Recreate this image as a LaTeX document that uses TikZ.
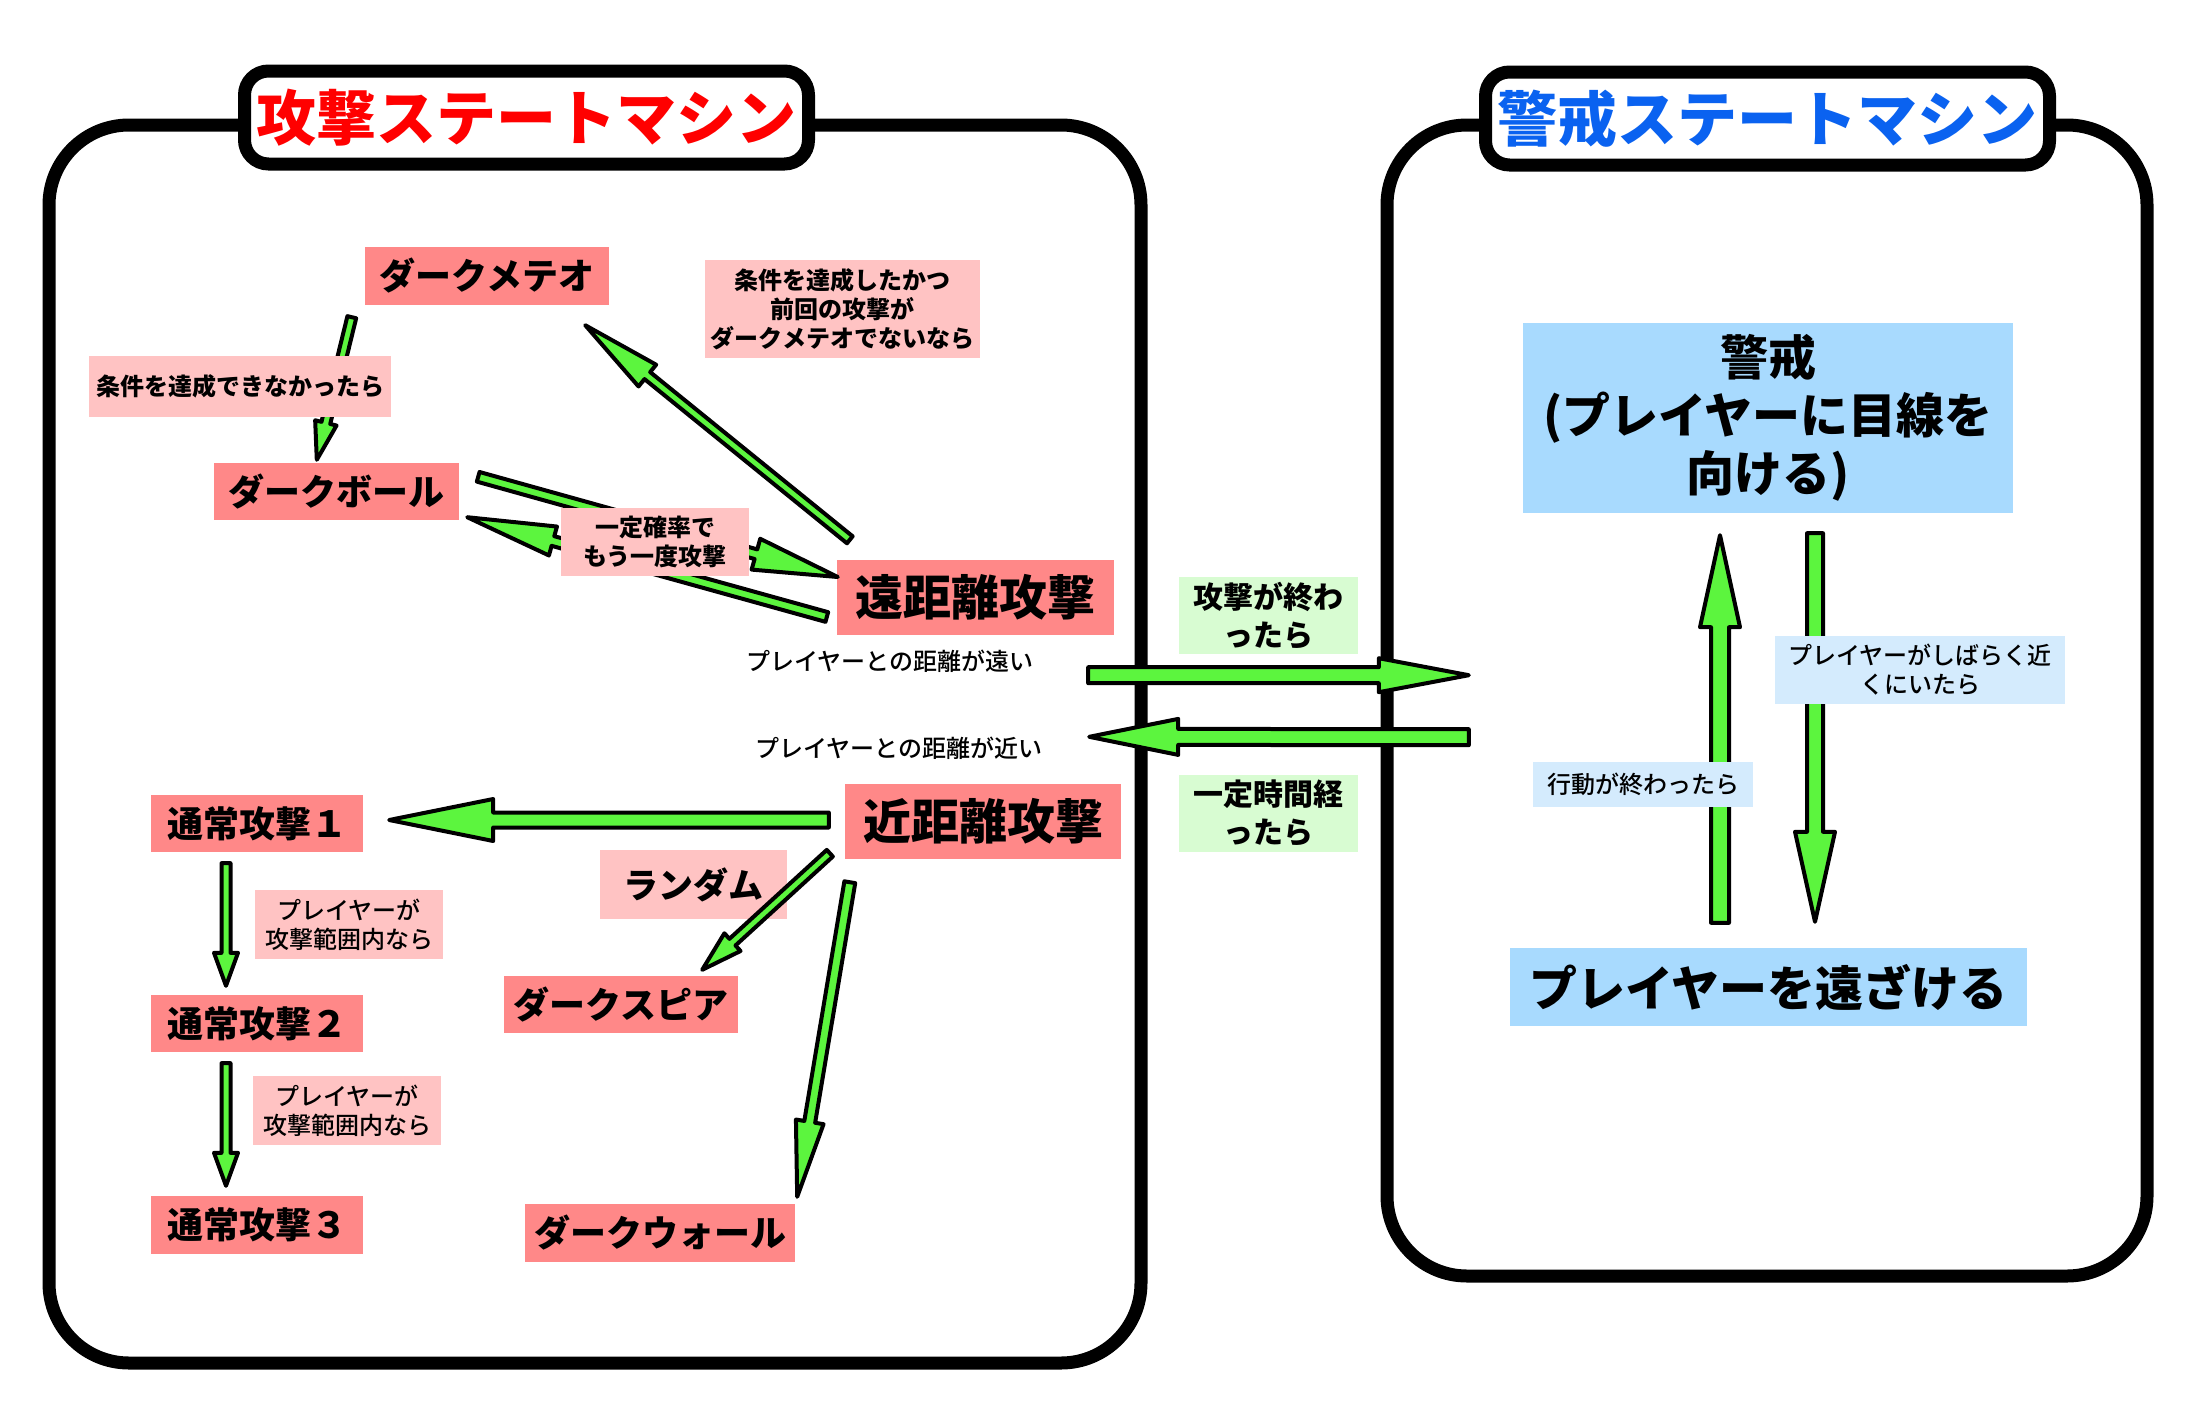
\documentclass[tikz,border=0pt]{standalone}
\usepackage{fontspec}
\setmainfont{Noto Sans CJK JP}
\newfontfamily\midfont{Noto Sans CJK JP Medium}
\usetikzlibrary{calc}
\usepackage{xcolor}

\definecolor{stateRed}{HTML}{FF8888}
\definecolor{condPink}{HTML}{FFC3C3}
\definecolor{endGreen}{HTML}{D8FCD2}
\definecolor{alertBlue}{HTML}{A8DAFE}
\definecolor{condBlue}{HTML}{D4EBFD}
\definecolor{arrowGreen}{HTML}{5CF53E}
\definecolor{titleBlue}{HTML}{0A62F0}

\tikzset{
  machine/.style={line width=13pt, rounded corners=80pt},
  machinetitle/.style={draw, line width=13pt, fill=white, rounded corners=24pt,
    minimum width=564pt, minimum height=93pt, inner sep=0pt,
    font=\fontsize{60}{60}\selectfont\bfseries},
  statebox/.style={fill=stateRed, inner sep=0pt, font=\fontsize{36}{36}\selectfont\bfseries},
  bigstate/.style={statebox, font=\fontsize{48}{48}\selectfont\bfseries},
  cond/.style={fill=condPink, inner sep=0pt, align=center,
    font=\fontsize{24}{29}\selectfont\bfseries},
  rangecond/.style={cond, font=\fontsize{24}{29}\selectfont\midfont},
  ended/.style={fill=endGreen, inner sep=0pt, align=center,
    font=\fontsize{30}{38}\selectfont\bfseries},
  alertstate/.style={fill=alertBlue, inner sep=0pt, align=center,
    font=\fontsize{48}{58}\selectfont\bfseries},
  bluecond/.style={fill=condBlue, inner sep=0pt, align=center,
    font=\fontsize{24}{29}\selectfont\midfont},
  gaptext/.style={inner sep=0pt, font=\fontsize{24}{24}\selectfont\midfont},
  fatarrow/.style={draw=black, fill=arrowGreen, line width=4pt, line join=round},
}

% tail, tip, half shaft, half head, head length
\newcommand{\fatarrow}[5]{%
  \coordinate (fa-a) at #1;
  \coordinate (fa-b) at #2;
  \coordinate (fa-h) at ($(fa-b)!#5!(fa-a)$);
  \draw[fatarrow] ($(fa-a)!#3!90:(fa-b)$) -- ($(fa-h)!#3!90:(fa-b)$)
    -- ($(fa-h)!#4!90:(fa-b)$) -- (fa-b) -- ($(fa-h)!#4!-90:(fa-b)$)
    -- ($(fa-h)!#3!-90:(fa-b)$) -- ($(fa-a)!#3!-90:(fa-b)$) -- cycle;
}

\begin{document}
\begin{tikzpicture}[x=1pt, y=-1pt]
\useasboundingbox (0,0) rectangle (2200,1400);

% the two machines
\draw[machine] (49,125) rectangle (1141,1363);
\draw[machine] (1387,125) rectangle (2147,1276);
\node[machinetitle, text=red] (atktitle) at (526.5,117.5) {攻撃ステートマシン};
\node[machinetitle, text=titleBlue] (guardtitle) at (1767.5,118.5) {警戒ステートマシン};

% attack states
\node[statebox, minimum width=244pt, minimum height=58pt] (meteor) at (487,276) {ダークメテオ};
\node[statebox, minimum width=245pt, minimum height=57pt] (ball) at (336.5,491.5) {ダークボール};
\node[bigstate, minimum width=277pt, minimum height=75pt] (far) at (975.5,597.5) {遠距離攻撃};
\node[bigstate, minimum width=276pt, minimum height=75pt] (near) at (983,821.5) {近距離攻撃};
\node[statebox, minimum width=212pt, minimum height=57pt] (normal1) at (257,823.5) {通常攻撃１};
\node[statebox, minimum width=212pt, minimum height=57pt] (normal2) at (257,1023.5) {通常攻撃２};
\node[statebox, minimum width=212pt, minimum height=58pt] (normal3) at (257,1225) {通常攻撃３};
\node[statebox, minimum width=234pt, minimum height=57pt] (spear) at (621,1004.5) {ダークスピア};
\node[statebox, minimum width=270pt, minimum height=58pt] (wall) at (660,1233) {ダークウォール};
\node[gaptext] (fartext) at (890,661) {プレイヤーとの距離が遠い};
\node[gaptext] (neartext) at (899,748) {プレイヤーとの距離が近い};

\fatarrow{($(meteor.south west)+(-13,12)$)}{($(ball.north west)+(103,-3)$)}{4.5pt}{11pt}{38pt}
\node[cond, minimum width=302pt, minimum height=61pt] (failcond) at (240,386.5) {条件を達成できなかったら};

\fatarrow{($(far.north west)+(13,-20)$)}{($(meteor.south east)+(-24,20)$)}{4.5pt}{14pt}{80pt}
\node[cond, minimum width=275pt, minimum height=98pt] (meteorcond) at (842.5,309)
  {条件を達成したかつ\\前回の攻撃が\\ダークメテオでないなら};

\fatarrow{($(ball.north east)+(19,14)$)}{($(far.west)+(1,-20.5)$)}{5pt}{16pt}{85pt}
\fatarrow{($(far.west)+(-10,19.5)$)}{($(ball.south east)+(8,-3)$)}{5pt}{15pt}{89pt}
\node[cond, minimum width=188pt, minimum height=68pt] (again) at (655,542) {一定確率で\\もう一度攻撃};

\fatarrow{($(near.west)+(-16,-1.5)$)}{($(normal1.east)+(26,-3.5)$)}{7.5pt}{21pt}{104pt}
\node[cond, font=\fontsize{35}{35}\selectfont\bfseries, minimum width=187pt, minimum height=69pt]
  (random) at (693.5,884.5) {ランダム};
\fatarrow{($(near.south west)+(-15,-6)$)}{($(spear.north east)+(-36,-6)$)}{4.5pt}{12pt}{41pt}
\fatarrow{($(near.south west)+(5,23)$)}{($(wall.north east)+(2,-7)$)}{5.5pt}{14pt}{76pt}

\fatarrow{($(normal1.south)+(-31,11)$)}{($(normal2.north)+(-31,-9)$)}{4.5pt}{12pt}{33pt}
\fatarrow{($(normal2.south)+(-31,11)$)}{($(normal3.north)+(-31,-10)$)}{4.5pt}{12pt}{33pt}
\node[rangecond, minimum width=188pt, minimum height=69pt] (range1) at (349,924.5) {プレイヤーが\\攻撃範囲内なら};
\node[rangecond, minimum width=188pt, minimum height=69pt] (range2) at (347,1110.5) {プレイヤーが\\攻撃範囲内なら};

% guard states
\node[alertstate, minimum width=490pt, minimum height=190pt] (alert) at (1768,418)
  {警戒\\(プレイヤーに目線を\\向ける)};
\node[alertstate, minimum width=517pt, minimum height=78pt] (push) at (1768.5,987) {プレイヤーを遠ざける};

% between the machines
\fatarrow{($(far.south east)+(-26,40)$)}{($(alert.south west)+(-54,162)$)}{8pt}{17pt}{90pt}
\fatarrow{($(alert.south west)+(-54,224)$)}{($(near.north east)+(-32,-47)$)}{8pt}{18pt}{89pt}
\node[ended, minimum width=179pt, minimum height=77pt] (atkend) at (1268.5,615.5) {攻撃が終わ\\ったら};
\node[ended, minimum width=179pt, minimum height=77pt] (timeout) at (1268.5,813.5) {一定時間経\\ったら};

\fatarrow{($(push.north)+(-48.5,-25)$)}{($(alert.south)+(-48,22)$)}{9pt}{20pt}{92pt}
\fatarrow{($(alert.south)+(47,20)$)}{($(push.north)+(46.5,-26)$)}{8pt}{20pt}{90pt}
\node[bluecond, minimum width=290pt, minimum height=68pt] (staynear) at (1920,670)
  {プレイヤーがしばらく近\\くにいたら};
\node[bluecond, minimum width=220pt, minimum height=45pt] (actend) at (1643,784.5) {行動が終わったら};
\end{tikzpicture}
\end{document}
